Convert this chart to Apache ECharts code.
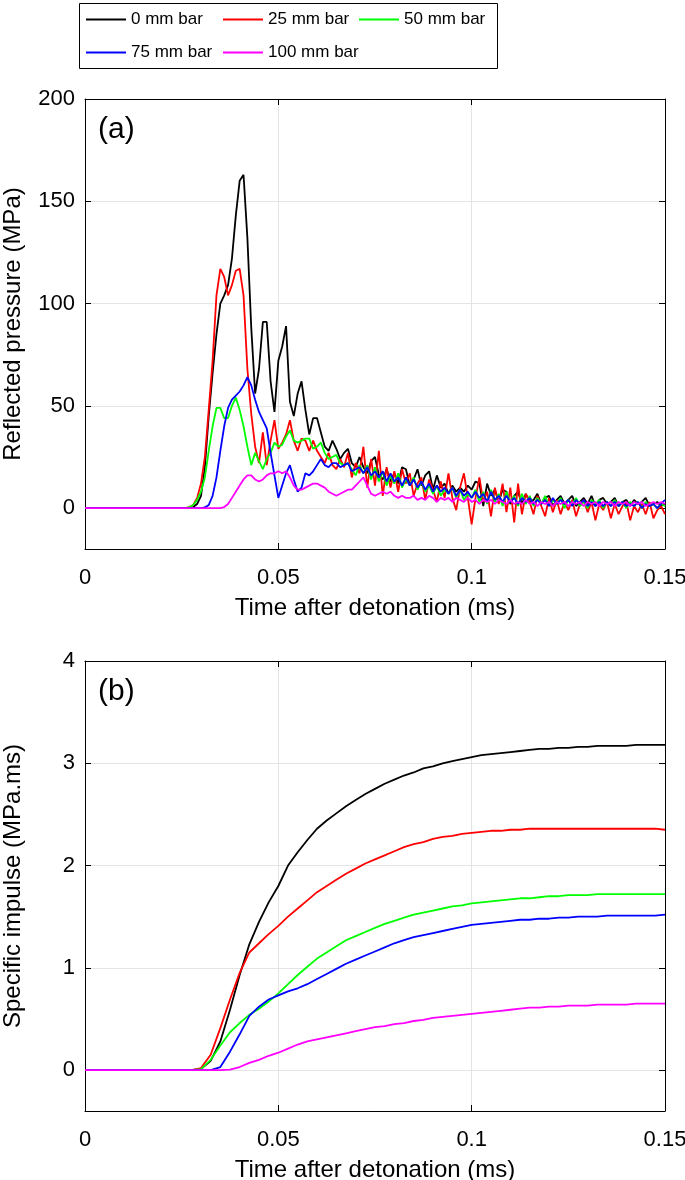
<!DOCTYPE html>
<html>
<head>
<meta charset="utf-8">
<script src="https://cdn.jsdelivr.net/npm/echarts@6/dist/echarts.min.js"></script>
<style>
  html, body { margin: 0; padding: 0; background: #fff; }
  #chart { width: 685px; height: 1180px; }
</style>
</head>
<body>
<div id="chart"></div>
<script>
// series names / colours
const barNames = ['0 mm bar', '25 mm bar', '50 mm bar', '75 mm bar', '100 mm bar'];
const barColors = ['#000000', '#ff0000', '#00ff00', '#0000ff', '#ff00ff'];

// tick values
const timeTicks = [0, 0.05, 0.1, 0.15];
const pressureTicks = [0, 50, 100, 150, 200];
const impulseTicks = [0, 1, 2, 3, 4];

// (a) reflected pressure (MPa), one value every 0.001 ms from t = 0
const pressureStep = 0.001;
const pressure0 = [
  0,0,0,0,0,0,0,0,0,0, 0,0,0,0,0,0,0,0,0,0, 0,0,0,0,0,
  0,0,0,0.5,2,6,20,45,66,85,
  100,104,109,122,143,160,163,132,88,56,
  68,91,91,62,47,72,79,89,52,45,
  56,62,48,36,44,44,37,30,28,33,
  29,24,27,29,22,20,25,20,17,23,
  25,16,14,19,13,17,12,20,19,11,
  14,19,11,16,18,9,16,10,12,7,
  11,8,10,8,11,9,13,12,1,12,
  6,9,3,9,8,2,6,8,2,7,
  3,4,7,2,5,6,1,4,6,2,
  4,6,1,3,5,2,6,1,4,5,
  2,3,5,1,3,4,1,4,2,3,
  5,1,2,3,1,2
];
const pressure25 = [
  0,0,0,0,0,0,0,0,0,0, 0,0,0,0,0,0,0,0,0,0, 0,0,0,0,0,
  0,0,0.5,1.5,5,12,25,48,72,104,
  117,113,104,109,116,117,104,68,46,30,
  22,37,21,33,43,29,32,36,43,33,
  28,34,33,28,33,28,25,22,27,21,
  19,24,20,27,15,22,17,30,10,24,
  11,28,6,20,10,18,8,19,12,17,
  6,12,15,4,14,9,3,13,5,17,
  5,-1,10,17,5,-8,5,15,3,8,
  -4,10,2,12,-2,10,-7,12,-3,7,
  3,-3,6,1,-4,5,-2,4,-3,3,
  -1,4,-4,2,4,-2,3,-6,2,-1,
  3,-5,2,-3,1,3,-6,1,-2,2,
  -3,3,-5,-1,1,-3
];
const pressure50 = [
  0,0,0,0,0,0,0,0,0,0, 0,0,0,0,0,0,0,0,0,0, 0,0,0,0,0,
  0,0,0.5,1.5,4,8,15,28,40,49,
  49,44,44,50,54,48,40,30,21,27,
  23,19,24,27,32,30,31,35,38,33,
  32,33,34,34,29,30,32,27,24,25,
  26,22,21,22,19,16,21,17,21,14,
  20,13,18,11,16,12,17,10,14,11,
  15,9,13,8,11,7,11,6,9,7,
  10,5,9,4,7,5,9,3,8,2,
  9,3,7,1,8,3,6,1,7,2,
  6,1,5,2,6,1,4,2,5,0,
  4,2,5,1,3,0,4,2,4,0,
  3,1,4,1,3,0,3,1,3,0,
  3,1,2,0,2,1
];
const pressure75 = [
  0,0,0,0,0,0,0,0,0,0, 0,0,0,0,0,0,0,0,0,0, 0,0,0,0,0,
  0,0,0,0,0,0,0.3,1.5,6,15,
  28,40,49,53,55,57,60,64,60,53,
  47,43,39,27,16,5,11,17,21,14,
  8,10,17,16,18,21,24,21,20,22,
  22,20,21,22,18,19,20,17,20,16,
  18,15,18,13,17,13,15,11,15,11,
  14,10,13,9,12,8,11,8,10,7,
  10,6,9,6,8,5,8,5,7,3,
  8,4,6,3,6,3,5,2,5,3,
  5,2,4,2,4,1,5,2,4,2,
  4,1,4,2,4,1,3,1,3,1,
  3,1,3,1,3,1,2,1,3,0,
  2,1,2,0,2,4
];
const pressure100 = [
  0,0,0,0,0,0,0,0,0,0, 0,0,0,0,0,0,0,0,0,0, 0,0,0,0,0,
  0,0,0,0,0,0,0,0,0,0,
  0,0.5,2,5,8,11,14,16,16,14,
  13,14,16,17,17,18,17,18,15,11,
  9,9,10,11,12,12,11,10,8,7,
  6,7,8,9,9,11,13,15,11,7,
  6,7,8,7,8,6,5,6,5,5,
  6,4,5,4,6,5,3,5,4,5,
  3,5,4,3,5,3,4,2,4,3,
  4,2,4,3,2,4,2,3,2,4,
  2,3,1,3,2,3,1,3,2,3,
  1,3,2,3,1,3,2,3,1,3,
  2,3,1,3,2,3,1,3,2,3,
  1,2,3,2,3,2
];

// (b) specific impulse (MPa.ms), one value every 0.0025 ms from t = 0
const impulseStep = 0.0025;
const impulse0 = [
  0,0,0,0,0,0,0,0,0,0,0,
  0,0.01,0.09,0.28,0.59,0.93,1.23,1.45,1.64,1.80,
  2.00,2.13,2.25,2.36,2.44,2.51,2.58,2.64,2.70,2.75,
  2.80,2.84,2.88,2.91,2.95,2.97,3.00,3.02,3.04,3.06,
  3.08,3.09,3.10,3.11,3.12,3.13,3.14,3.14,3.15,3.15,
  3.16,3.16,3.17,3.17,3.17,3.17,3.18,3.18,3.18,3.18
];
const impulse25 = [
  0,0,0,0,0,0,0,0,0,0,0,
  0,0.02,0.15,0.41,0.69,0.95,1.15,1.24,1.33,1.41,
  1.50,1.58,1.66,1.74,1.80,1.86,1.92,1.97,2.02,2.06,
  2.10,2.14,2.18,2.21,2.23,2.26,2.28,2.29,2.31,2.32,
  2.33,2.34,2.34,2.35,2.35,2.36,2.36,2.36,2.36,2.36,
  2.36,2.36,2.36,2.36,2.36,2.36,2.36,2.36,2.36,2.35
];
const impulse50 = [
  0,0,0,0,0,0,0,0,0,0,0,
  0,0.01,0.10,0.24,0.37,0.46,0.54,0.60,0.67,0.75,
  0.84,0.93,1.01,1.09,1.15,1.21,1.27,1.31,1.35,1.39,
  1.43,1.46,1.49,1.52,1.54,1.56,1.58,1.60,1.61,1.63,
  1.64,1.65,1.66,1.67,1.68,1.68,1.69,1.70,1.70,1.71,
  1.71,1.71,1.72,1.72,1.72,1.72,1.72,1.72,1.72,1.72
];
const impulse75 = [
  0,0,0,0,0,0,0,0,0,0,0,
  0,0,0,0.03,0.18,0.35,0.53,0.62,0.69,0.73,
  0.77,0.80,0.84,0.89,0.94,0.99,1.04,1.08,1.12,1.16,
  1.20,1.24,1.27,1.30,1.32,1.34,1.36,1.38,1.40,1.42,
  1.43,1.44,1.45,1.46,1.47,1.47,1.48,1.48,1.49,1.49,
  1.50,1.50,1.50,1.51,1.51,1.51,1.51,1.51,1.51,1.52
];
const impulse100 = [
  0,0,0,0,0,0,0,0,0,0,0,
  0,0,0,0,0.005,0.03,0.07,0.10,0.14,0.17,
  0.21,0.25,0.28,0.30,0.32,0.34,0.36,0.38,0.40,0.42,
  0.43,0.45,0.46,0.48,0.49,0.51,0.52,0.53,0.54,0.55,
  0.56,0.57,0.58,0.59,0.60,0.61,0.61,0.62,0.62,0.63,
  0.63,0.63,0.64,0.64,0.64,0.64,0.65,0.65,0.65,0.65
];

const pressureSets = [pressure0, pressure25, pressure50, pressure75, pressure100];
const impulseSets = [impulse0, impulse25, impulse50, impulse75, impulse100];

function toPairs(values, step) {
  return values.map((v, i) => [+(i * step).toFixed(4), v]);
}

const font = 'Liberation Sans, Arial, sans-serif';

function bottomAxis(gridIndex) {
  return {
    gridIndex: gridIndex,
    type: 'value',
    position: 'bottom',
    min: 0, max: 0.15, interval: 0.05,
    name: 'Time after detonation (ms)',
    nameLocation: 'middle',
    nameGap: 47,
    nameTextStyle: { fontSize: 24, color: '#000', fontFamily: font },
    axisLine: { onZero: false, lineStyle: { color: '#000', width: 1 } },
    axisTick: { inside: true, length: 6, lineStyle: { color: '#000' } },
    axisLabel: { fontSize: 22, color: '#000', margin: 18, fontFamily: font,
      customValues: timeTicks, formatter: v => String(+v.toFixed(2)) },
    splitLine: { show: true, lineStyle: { color: '#e4e4e4', width: 1 } }
  }
}
function topAxis(gridIndex) {
  return {
    gridIndex: gridIndex,
    type: 'value',
    position: 'top',
    min: 0, max: 0.15, interval: 0.05,
    axisLine: { onZero: false, lineStyle: { color: '#000', width: 1 } },
    axisTick: { inside: true, length: 6, lineStyle: { color: '#000' } },
    axisLabel: { show: false },
    splitLine: { show: false }
  }
}
function leftAxis(gridIndex, min, max, ticks, name) {
  return {
    gridIndex: gridIndex,
    type: 'value',
    position: 'left',
    min: min, max: max,
    name: name,
    nameLocation: 'middle',
    nameGap: 60,
    nameTextStyle: { fontSize: 24, color: '#000', fontFamily: font },
    axisLine: { show: true, onZero: false, lineStyle: { color: '#000', width: 1 } },
    axisTick: { show: true, inside: true, length: 6, customValues: ticks, lineStyle: { color: '#000' } },
    axisLabel: { fontSize: 22, color: '#000', margin: 10, fontFamily: font, customValues: ticks },
    splitLine: { show: true, lineStyle: { color: '#e4e4e4', width: 1 } }
  }
}
function rightAxis(gridIndex, min, max, ticks) {
  return {
    gridIndex: gridIndex,
    type: 'value',
    position: 'right',
    min: min, max: max,
    axisLine: { show: true, onZero: false, lineStyle: { color: '#000', width: 1 } },
    axisTick: { show: true, inside: true, length: 6, customValues: ticks, lineStyle: { color: '#000' } },
    axisLabel: { show: false },
    splitLine: { show: false }
  }
}

const series = [];
barNames.forEach((name, i) => {
  series.push({
    name: name, type: 'line', xAxisIndex: 0, yAxisIndex: 0,
    data: toPairs(pressureSets[i], pressureStep),
    showSymbol: false, symbol: 'none',
    lineStyle: { color: barColors[i], width: 1.8 }, itemStyle: { color: barColors[i] }
  })
});
barNames.forEach((name, i) => {
  series.push({
    name: name, type: 'line', xAxisIndex: 2, yAxisIndex: 2,
    data: toPairs(impulseSets[i], impulseStep),
    showSymbol: false, symbol: 'none',
    lineStyle: { color: barColors[i], width: 1.8 }, itemStyle: { color: barColors[i] }
  })
});

// one legend per entry so the columns line up like the original box
const legendSpots = [[86, 11], [223, 11], [359, 11], [86, 44], [223, 44]];
const legends = barNames.map((name, i) => ({
  data: [name],
  left: legendSpots[i][0], top: legendSpots[i][1],
  padding: 0, icon: 'rect', itemWidth: 40, itemHeight: 2,
  selectedMode: false,
  textStyle: { fontSize: 17, color: '#000', fontFamily: font }
}));

const chart = echarts.init(document.getElementById('chart'));
chart.setOption({
  animation: false,
  backgroundColor: '#fff',
  textStyle: { fontFamily: font },
  title: [
    { text: '(a)', left: 93, top: 110, textStyle: { fontSize: 30, fontWeight: 'normal', color: '#000', fontFamily: font } },
    { text: '(b)', left: 93, top: 672, textStyle: { fontSize: 30, fontWeight: 'normal', color: '#000', fontFamily: font } }
  ],
  legend: legends,
  graphic: [{
    type: 'rect', left: 77, top: 1,
    shape: { width: 418, height: 65 },
    style: { fill: 'none', stroke: '#000', lineWidth: 1 }
  }],
  grid: [
    { left: 85, right: 20, top: 99, height: 450, outerBoundsMode: 'none' },
    { left: 85, right: 20, top: 661, height: 450, outerBoundsMode: 'none' }
  ],
  xAxis: [bottomAxis(0), topAxis(0), bottomAxis(1), topAxis(1)],
  yAxis: [
    leftAxis(0, -20, 200, pressureTicks, 'Reflected pressure (MPa)'),
    rightAxis(0, -20, 200, pressureTicks),
    leftAxis(1, -0.4, 4, impulseTicks, 'Specific impulse (MPa.ms)'),
    rightAxis(1, -0.4, 4, impulseTicks)
  ],
  series: series
});
</script>
</body>
</html>
